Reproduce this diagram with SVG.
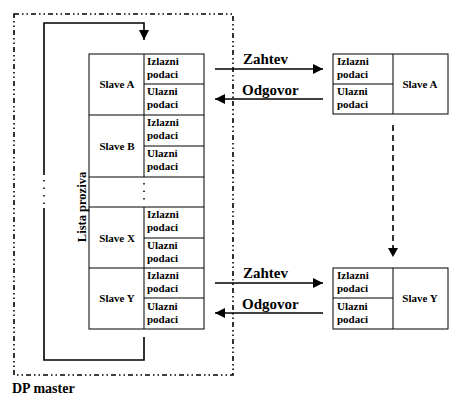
<svg xmlns="http://www.w3.org/2000/svg" width="465" height="401" viewBox="0 0 465 401">
<defs>
<marker id="ah" viewBox="0 0 10 10" refX="10" refY="5" markerWidth="10" markerHeight="10" markerUnits="userSpaceOnUse" orient="auto">
<path d="M0,0 L10,5 L0,10 z" fill="#000"/>
</marker>
</defs>
<style>
.t{font-family:"Liberation Serif","Times New Roman","DejaVu Serif",serif;font-weight:bold;font-size:11px;fill:#000}
.lbl{font-family:"Liberation Serif","Times New Roman","DejaVu Serif",serif;font-weight:bold;font-size:15px;fill:#000}
.box{fill:#fff;stroke:#000;stroke-width:1}
.ln{fill:none;stroke:#000;stroke-width:1.6}
.dot{fill:none;stroke:#000;stroke-width:1.5;stroke-dasharray:1.5 6}
</style>
<rect width="465" height="401" fill="#fff"/>
<g id="dp-master">
<rect x="14" y="14" width="219" height="361" fill="none" stroke="#000" stroke-width="1.6" stroke-dasharray="5 3 1.5 3 1.5 3"/>
<text class="lbl" x="12" y="393" style="font-size:14px">DP master</text>
</g>
<g id="lista-proziva">
<rect class="box" x="89" y="54" width="115" height="275"/>
<line x1="144" y1="54" x2="144" y2="177" stroke="#000"/>
<line x1="144" y1="207" x2="144" y2="329" stroke="#000"/>
<line x1="89" y1="115" x2="204" y2="115" stroke="#000"/>
<line x1="89" y1="177" x2="204" y2="177" stroke="#000"/>
<line x1="89" y1="207" x2="204" y2="207" stroke="#000"/>
<line x1="89" y1="268" x2="204" y2="268" stroke="#000"/>
<line x1="144" y1="84" x2="204" y2="84" stroke="#000"/>
<line x1="144" y1="146" x2="204" y2="146" stroke="#000"/>
<line x1="144" y1="238" x2="204" y2="238" stroke="#000"/>
<line x1="144" y1="298" x2="204" y2="298" stroke="#000"/>
<line class="dot" x1="144" y1="183" x2="144" y2="205"/>
<text class="t" x="117" y="88" text-anchor="middle">Slave A</text>
<text class="t" x="117" y="150" text-anchor="middle">Slave B</text>
<text class="t" x="117" y="242" text-anchor="middle">Slave X</text>
<text class="t" x="117" y="302" text-anchor="middle">Slave Y</text>
<text class="t" x="147" y="65">Izlazni</text><text class="t" x="147" y="78">podaci</text>
<text class="t" x="147" y="95">Ulazni</text><text class="t" x="147" y="108">podaci</text>
<text class="t" x="147" y="126">Izlazni</text><text class="t" x="147" y="139">podaci</text>
<text class="t" x="147" y="157">Ulazni</text><text class="t" x="147" y="170">podaci</text>
<text class="t" x="147" y="218">Izlazni</text><text class="t" x="147" y="231">podaci</text>
<text class="t" x="147" y="249">Ulazni</text><text class="t" x="147" y="262">podaci</text>
<text class="t" x="147" y="279">Izlazni</text><text class="t" x="147" y="292">podaci</text>
<text class="t" x="147" y="310">Ulazni</text><text class="t" x="147" y="323">podaci</text>
<text class="t" transform="translate(86,207) rotate(-90)" text-anchor="middle" style="font-size:12.5px">Lista proziva</text>
</g>
<g id="slave-a">
<rect class="box" x="333" y="54" width="115" height="60"/>
<line x1="393" y1="54" x2="393" y2="114" stroke="#000"/>
<line x1="333" y1="84" x2="393" y2="84" stroke="#000"/>
<text class="t" x="337" y="65">Izlazni</text><text class="t" x="337" y="78">podaci</text>
<text class="t" x="337" y="95">Ulazni</text><text class="t" x="337" y="108">podaci</text>
<text class="t" x="420" y="88" text-anchor="middle">Slave A</text>
</g>
<g id="slave-y">
<rect class="box" x="333" y="268" width="115" height="61"/>
<line x1="393" y1="268" x2="393" y2="329" stroke="#000"/>
<line x1="333" y1="298" x2="393" y2="298" stroke="#000"/>
<text class="t" x="337" y="279">Izlazni</text><text class="t" x="337" y="292">podaci</text>
<text class="t" x="337" y="310">Ulazni</text><text class="t" x="337" y="323">podaci</text>
<text class="t" x="420" y="302" text-anchor="middle">Slave Y</text>
</g>
<g id="connectors">
<polyline class="ln" points="44,175 44,23 144,23 144,40" marker-end="url(#ah)"/>
<line class="dot" x1="44" y1="180" x2="44" y2="206"/>
<polyline class="ln" points="44,208 44,360 144,360 144,337"/>
<line class="ln" x1="215" y1="69" x2="323" y2="69" marker-end="url(#ah)"/>
<line class="ln" x1="323" y1="99" x2="215" y2="99" marker-end="url(#ah)"/>
<line class="ln" x1="215" y1="283" x2="323" y2="283" marker-end="url(#ah)"/>
<line class="ln" x1="323" y1="313" x2="215" y2="313" marker-end="url(#ah)"/>
<line x1="393" y1="125" x2="393" y2="248" stroke="#000" stroke-width="1.6" stroke-dasharray="6 4"/>
<path d="M388,248 L398,248 L393,257 z" fill="#000"/>
<text class="lbl" x="243" y="64">Zahtev</text>
<text class="lbl" x="242" y="95">Odgovor</text>
<text class="lbl" x="243" y="278">Zahtev</text>
<text class="lbl" x="242" y="309">Odgovor</text>
</g>
</svg>
